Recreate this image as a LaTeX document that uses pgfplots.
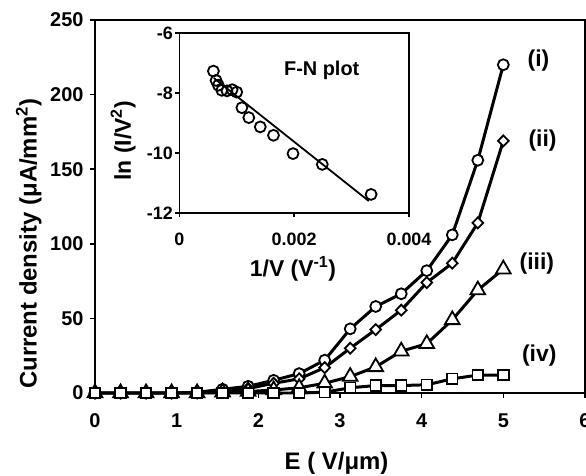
\documentclass[border=0pt]{standalone}
\usepackage{fontspec}
\setmainfont{Liberation Sans}
\usepackage{pgfplots}
\usepackage{pgfplotstable}
\pgfplotsset{compat=1.18}

% current density vs field, four samples
\pgfplotstableread{
E       i      ii     iii    iv
0       0      0      0      0
0.3125  0      0      0      0
0.625   0      0      0      0
0.9375  0      0      0      0
1.25    0.5    0      0      0
1.5625  2.5    1.5    0.5    0
1.875   4.5    3      1      0
2.1875  8.5    6.5    2      0
2.5     13     9.5    3.5    0
2.8125  22     17     6.5    0.5
3.125   43     30     11     3.5
3.4375  58     42.5   17.5   5
3.75    66.5   55.5   28     5
4.0625  82     74     33     5.5
4.375   106    87     49     9.5
4.6875  156    114    69     12
5.0     220    169    83     12
}\jdata

% F-N plot of sample (i)
\pgfplotstableread{
invV      lnIV
0.000594  -7.27
0.00064   -7.58
0.00068   -7.74
0.00074   -7.91
0.00083   -7.93
0.00092   -7.89
0.00100   -7.97
0.00109   -8.49
0.00121   -8.82
0.00141   -9.13
0.00164   -9.41
0.00198   -10.02
0.00249   -10.38
0.00334   -11.38
}\fndata

\begin{document}
\begin{tikzpicture}
\begin{axis}[
  at={(0,0)}, anchor=south west, scale only axis,
  width=490bp, height=373bp,
  xmin=0, xmax=6, ymin=0, ymax=250,
  xtick={0,...,6}, ytick={0,50,...,250},
  tick align=outside, xtick pos=bottom, ytick pos=left,
  major tick length=5bp,
  axis line style={line width=1.5pt}, tick style={line width=1.5pt, black},
  /pgf/number format/assume math mode=true,
  tick label style={font=\bfseries\fontsize{20}{22}\selectfont},
  xticklabel style={yshift=-12bp},
  yticklabel style={xshift=-3bp},
  xlabel={E ( V/μm)}, ylabel={Current density (μA/mm\textsuperscript{2})},
  label style={font=\bfseries\fontsize{24}{26}\selectfont},
  xlabel style={at={(axis description cs:0.493,-0.188)}, anchor=center},
  ylabel style={at={(axis description cs:-0.135,0.40)}, anchor=center},
  clip=false,
  every axis plot/.append style={line width=3pt, black},
]
\addplot[mark=*, mark size=5.5pt, mark options={fill=white, line width=1.8pt}]
  table[x=E, y=i] {\jdata};
\addplot[mark=diamond*, mark size=5.5pt, mark options={fill=white, line width=1.8pt, xscale=1.3}]
  table[x=E, y=ii] {\jdata};
\addplot[mark=triangle*, mark size=8.5pt, mark options={fill=white, line width=1.8pt}]
  table[x=E, y=iii] {\jdata};
\addplot[mark=square*, mark size=5.3pt, mark options={fill=white, line width=1.8pt}]
  table[x=E, y=iv] {\jdata};
\begin{scope}[font=\bfseries\fontsize{23}{25}\selectfont]
\node at (axis cs:5.43,223) {(i)};
\node at (axis cs:5.48,169.5) {(ii)};
\node at (axis cs:5.41,87) {(iii)};
\node at (axis cs:5.44,25) {(iv)};
\end{scope}
\end{axis}

% inset
\begin{axis}[
  at={(84.3bp,180bp)}, anchor=south west, scale only axis,
  width=229.7bp, height=180bp,
  xmin=0, xmax=0.004, ymin=-12, ymax=-6,
  scaled x ticks=false,
  xtick={0,0.002,0.004}, xticklabels={0,0.002,0.004},
  ytick={-12,-10,-8,-6}, yticklabels={-12,-10,-8,-6},
  tick align=outside, xtick pos=bottom, ytick pos=left,
  major tick length=4bp,
  axis background/.style={fill=white},
  axis line style={line width=1.5pt}, tick style={line width=1.5pt, black},
  tick label style={font=\bfseries\fontsize{18}{20}\selectfont},
  xticklabel style={yshift=-12bp},
  yticklabel style={xshift=1bp},
  xlabel={1/V (V\textsuperscript{-1})}, ylabel={ln (I/V\textsuperscript{2})},
  label style={font=\bfseries\fontsize{23}{25}\selectfont},
  xlabel style={at={(axis description cs:0.495,-0.313)}, anchor=center},
  ylabel style={at={(axis description cs:-0.244,0.40)}, anchor=center},
]
% fitted line
\addplot[line width=1.8pt, black] coordinates {(0.0006,-7.5) (0.0033,-11.6)};
\addplot[only marks, mark=o, mark size=5.5pt, mark options={line width=1.8pt, black}]
  table[x=invV, y=lnIV] {\fndata};
\node[font=\bfseries\fontsize{20}{22}\selectfont] at (axis description cs:0.62,0.793) {F-N plot};
\end{axis}

\pgfresetboundingbox
\path (-95bp,-83bp) rectangle (491bp,393bp);
\end{tikzpicture}
\end{document}
